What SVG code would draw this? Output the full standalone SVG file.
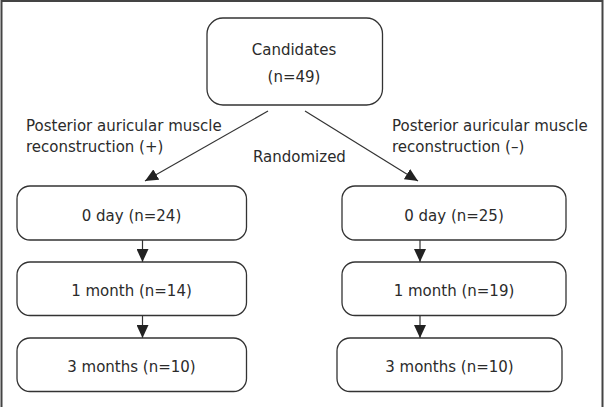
<svg xmlns="http://www.w3.org/2000/svg" width="605" height="407" viewBox="0 0 605 407">
  <style>
    .box { fill: #ffffff; stroke: #333333; stroke-width: 1.3; }
    .t { font-family: "DejaVu Sans", "Liberation Sans", sans-serif; font-size: 15px; fill: #2b2b2b; }
    .c { text-anchor: middle; }
    .conn { stroke: #333333; stroke-width: 1.2; fill: none; }
  </style>
  <defs>
    <marker id="ah" markerUnits="userSpaceOnUse" markerWidth="14" markerHeight="12" refX="13" refY="6" orient="auto">
      <path d="M0,0 L13,6 L0,12 Z" fill="#222222"/>
    </marker>
  </defs>
  <rect x="0" y="0" width="605" height="407" fill="#ffffff"/>
  <path d="M1.5,407 V1 H602.5 V407" fill="none" stroke="#444444" stroke-width="2"/>

  <g id="connectors">
    <line class="conn" x1="268" y1="111" x2="145" y2="181" marker-end="url(#ah)"/>
    <line class="conn" x1="305" y1="111" x2="418" y2="181" marker-end="url(#ah)"/>
    <line class="conn" x1="142.5" y1="240" x2="142.5" y2="262" marker-end="url(#ah)"/>
    <line class="conn" x1="142.5" y1="316" x2="142.5" y2="338" marker-end="url(#ah)"/>
    <line class="conn" x1="420" y1="240" x2="420" y2="262" marker-end="url(#ah)"/>
    <line class="conn" x1="420" y1="316" x2="420" y2="338" marker-end="url(#ah)"/>
  </g>

  <g id="labels">
    <text class="t" x="26" y="131">Posterior auricular muscle</text>
    <text class="t" x="26" y="152">reconstruction (+)</text>
    <text class="t" x="392" y="131">Posterior auricular muscle</text>
    <text class="t" x="392" y="152">reconstruction (–)</text>
    <text class="t" x="253" y="162">Randomized</text>
  </g>

  <g id="candidates">
    <rect class="box" x="207" y="18" width="175.5" height="87" rx="16" ry="16"/>
    <text class="t c" x="294" y="55">Candidates</text>
    <text class="t c" x="294" y="81.5">(n=49)</text>
  </g>

  <g id="left-0day">
    <rect class="box" x="17" y="186" width="229.5" height="54" rx="13" ry="13"/>
    <text class="t c" x="131.5" y="220.5">0 day (n=24)</text>
  </g>
  <g id="left-1month">
    <rect class="box" x="17" y="262" width="229.5" height="53.5" rx="13" ry="13"/>
    <text class="t c" x="131.5" y="296">1 month (n=14)</text>
  </g>
  <g id="left-3months">
    <rect class="box" x="17" y="338" width="229.5" height="53.5" rx="13" ry="13"/>
    <text class="t c" x="131.5" y="371.5">3 months (n=10)</text>
  </g>

  <g id="right-0day">
    <rect class="box" x="342" y="186" width="224" height="54" rx="13" ry="13"/>
    <text class="t c" x="454" y="220.5">0 day (n=25)</text>
  </g>
  <g id="right-1month">
    <rect class="box" x="342" y="262" width="224" height="53.5" rx="13" ry="13"/>
    <text class="t c" x="454" y="296">1 month (n=19)</text>
  </g>
  <g id="right-3months">
    <rect class="box" x="337" y="338" width="225" height="53.5" rx="13" ry="13"/>
    <text class="t c" x="449.5" y="371.5">3 months (n=10)</text>
  </g>
</svg>
